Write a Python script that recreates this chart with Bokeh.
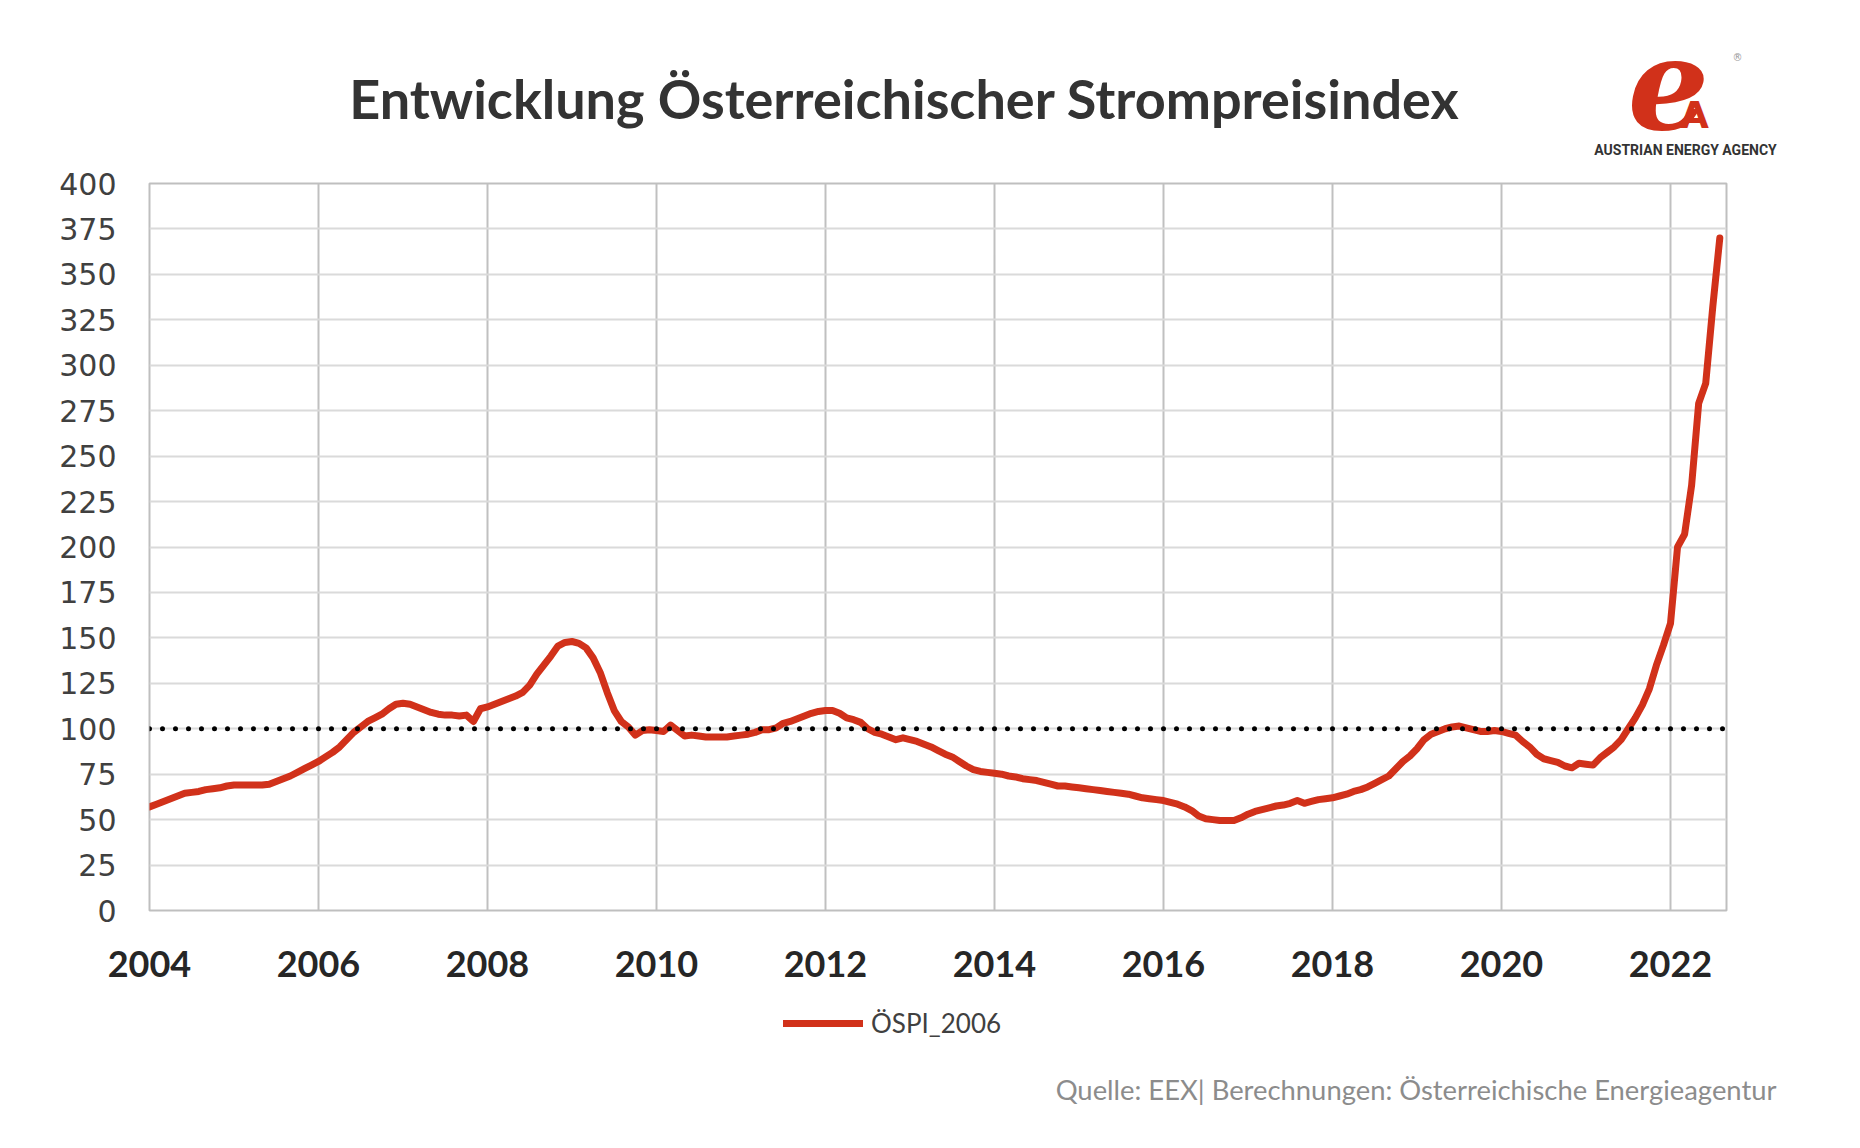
from bokeh.plotting import figure
from bokeh.models import (Label, Span, FixedTicker, Legend, LegendItem, ColumnDataSource, Range1d)
from bokeh.embed import file_html
from bokeh.resources import INLINE

# ---------------- data ----------------
start_year = 2004
y2004 = [57, 58.5, 60, 61.5, 63, 64.5, 65, 65.5, 66.5, 67, 67.5, 68.5]
y2005 = [69, 69, 69, 69, 69, 69.5, 71, 72.5, 74, 76, 78, 80]
y2006 = [82, 84.5, 87, 90, 94, 98, 101, 104, 106, 108, 111, 113.5]
y2007 = [114, 113.5, 112, 110.5, 109, 108, 107.5, 107.5, 107, 107.5, 104, 111]
y2008 = [112, 113.5, 115, 116.5, 118, 120, 124, 130, 135, 140, 145.5, 147.5]
y2009 = [148, 147, 144.5, 139, 131, 120, 110, 104, 101, 96.5, 99, 99.5]
y2010 = [99, 98.5, 102, 99, 96, 96.5, 96, 95.5, 95.5, 95.5, 95.5, 96]
y2011 = [96.5, 97, 98, 99.5, 99.5, 100.5, 103, 104, 105.5, 107, 108.5, 109.5]
y2012 = [110, 110, 108.5, 106, 105, 103.5, 100, 98, 97, 95.5, 94, 95]
y2013 = [94, 93, 91.5, 90, 88, 86, 84.5, 82, 79.5, 77.5, 76.5, 76]
y2014 = [75.5, 75, 74, 73.5, 72.5, 72, 71.5, 70.5, 69.5, 68.5, 68.5, 68]
y2015 = [67.5, 67, 66.5, 66, 65.5, 65, 64.5, 64, 63, 62, 61.5, 61]
y2016 = [60.5, 59.5, 58.5, 57, 55, 52, 50.5, 50, 49.5, 49.5, 49.5, 51]
y2017 = [53, 54.5, 55.5, 56.5, 57.5, 58, 59, 60.5, 59, 60, 61, 61.5]
y2018 = [62, 63, 64, 65.5, 66.5, 68, 70, 72, 74, 78, 82, 85]
y2019 = [89, 94, 97, 98.5, 100, 101, 101.5, 100.5, 99.5, 98.5, 98.5, 99]
y2020 = [98.5, 97.5, 96.5, 93, 90, 86, 83.5, 82.5, 81.5, 79.5, 78.5, 81]
y2021 = [80.5, 80, 84, 87, 90, 94, 100, 106, 113, 122, 135, 146]
y2022 = [158, 200, 207, 234, 279, 290, 332, 370]

series_name = "ÖSPI_2006"
reference_value = 100
year_ticks = [2004, 2006, 2008, 2010, 2012, 2014, 2016, 2018, 2020, 2022]
value_ticks = [0, 25, 50, 75, 100, 125, 150, 175, 200, 225, 250, 275, 300, 325, 350, 375, 400]
title_text = "Entwicklung Österreichischer Strompreisindex"
source_text = "Quelle: EEX| Berechnungen: Österreichische Energieagentur"
logo_text = "AUSTRIAN ENERGY AGENCY"

values = (y2004 + y2005 + y2006 + y2007 + y2008 + y2009 + y2010 + y2011 + y2012 +
          y2013 + y2014 + y2015 + y2016 + y2017 + y2018 + y2019 + y2020 + y2021 + y2022)
dates = [start_year + i / 12 for i in range(len(values))]
src = ColumnDataSource(dict(x=dates, y=values))

RED = "#D1311A"
W = 1844
FRAME_L, FRAME_R = 149, 1726          # page px of the plot frame
HEAD_H, MAIN_H, FOOT_H = 168, 832, 140
FOOT_TOP = HEAD_H + MAIN_H


def blank(h):
    f = figure(width=W, height=h, output_backend="svg", toolbar_location=None,
               x_range=Range1d(0, W), y_range=Range1d(0, h),
               x_axis_location=None, y_axis_location=None,
               min_border_left=0, min_border_right=0,
               min_border_top=0, min_border_bottom=0)
    f.xgrid.visible = False
    f.ygrid.visible = False
    f.outline_line_color = None
    f.background_fill_color = "white"
    f.border_fill_color = "white"
    return f


# ---------------- header ----------------
head = blank(HEAD_H)
hy = lambda py: HEAD_H - py
head.add_layout(Label(x=904, y=hy(98), text=title_text, text_align="center",
                      text_baseline="middle", text_font="Lato", text_font_style="bold",
                      text_font_size="54px", text_color="#333333"))
head.add_layout(Label(x=1668, y=hy(82), text="e", text_align="center",
                      text_baseline="middle", text_font="DejaVu Serif",
                      text_font_style="bold italic", text_font_size="128px", text_color=RED))
head.add_layout(Label(x=1694, y=hy(115), text="A", text_align="center",
                      text_baseline="middle", text_font="DejaVu Sans", text_font_style="bold",
                      text_font_size="37px", text_color=RED))
head.add_layout(Label(x=1737, y=hy(57), text="®", text_align="center",
                      text_baseline="middle", text_font="DejaVu Sans",
                      text_font_size="10px", text_color="#999999"))
head.add_layout(Label(x=1685, y=hy(149), text=logo_text, text_align="center",
                      text_baseline="middle", text_font="Roboto", text_font_style="bold",
                      text_font_size="14px", text_color="#333333"))

# ---------------- main chart ----------------
p = figure(width=W, height=MAIN_H, output_backend="svg", toolbar_location=None,
           x_range=Range1d(2004, 2004 + (FRAME_R - FRAME_L) / 84.5), y_range=Range1d(0, 400),
           min_border_left=FRAME_L, min_border_right=W - FRAME_R,
           min_border_top=183 - HEAD_H, min_border_bottom=HEAD_H + MAIN_H - 910)
p.background_fill_color = "white"
p.border_fill_color = "white"
p.outline_line_color = "#BFBFBF"
p.outline_line_width = 2

p.xaxis.ticker = FixedTicker(ticks=year_ticks)
p.yaxis.ticker = FixedTicker(ticks=value_ticks)
for ax in (p.xaxis[0], p.yaxis[0]):
    ax.axis_line_color = None
    ax.major_tick_line_color = None
    ax.minor_tick_line_color = None

p.xaxis.major_label_text_font = "Lato"
p.xaxis.major_label_text_font_style = "bold"
p.xaxis.major_label_text_font_size = "36px"
p.xaxis.major_label_text_color = "#262626"
p.xaxis.major_label_standoff = 34

p.yaxis.major_label_text_font = "DejaVu Sans"
p.yaxis.major_label_text_font_size = "30px"
p.yaxis.major_label_text_color = "#404040"
p.yaxis.major_label_standoff = 27

p.xgrid.grid_line_color = "#C0C0C0"
p.xgrid.grid_line_width = 2
p.ygrid.grid_line_color = "#DADADA"
p.ygrid.grid_line_width = 2

r = p.line("x", "y", source=src, line_color=RED, line_width=7,
           line_join="round", line_cap="round")

p.add_layout(Span(location=reference_value, dimension="width", line_color="black",
                  line_width=5, line_dash="0 13", line_cap="round"))

# ---------------- footer ----------------
foot = blank(FOOT_H)
fy = lambda py: FOOT_H - (py - FOOT_TOP)
# same series, drawn outside the footer's visible range: only its legend swatch shows
swatch = foot.line("x", "y", source=src, line_color=RED, line_width=7, line_cap="round")
legend = Legend(items=[LegendItem(label=series_name, renderers=[swatch])],
                orientation="horizontal", location=(783, FOOT_H - 20 - 19),
                label_text_font="Lato", label_text_font_size="26px", label_text_color="#404040",
                glyph_width=80, glyph_height=20, label_standoff=8,
                border_line_color=None, background_fill_alpha=0, margin=0, padding=4)
foot.add_layout(legend)
foot.add_layout(Label(x=1776, y=fy(1089), text=source_text, text_align="right",
                      text_baseline="middle", text_font="Lato", text_font_size="27.4px",
                      text_color="#8C8C8C"))

open("out.html", "w").write(file_html([head, p, foot], INLINE))
